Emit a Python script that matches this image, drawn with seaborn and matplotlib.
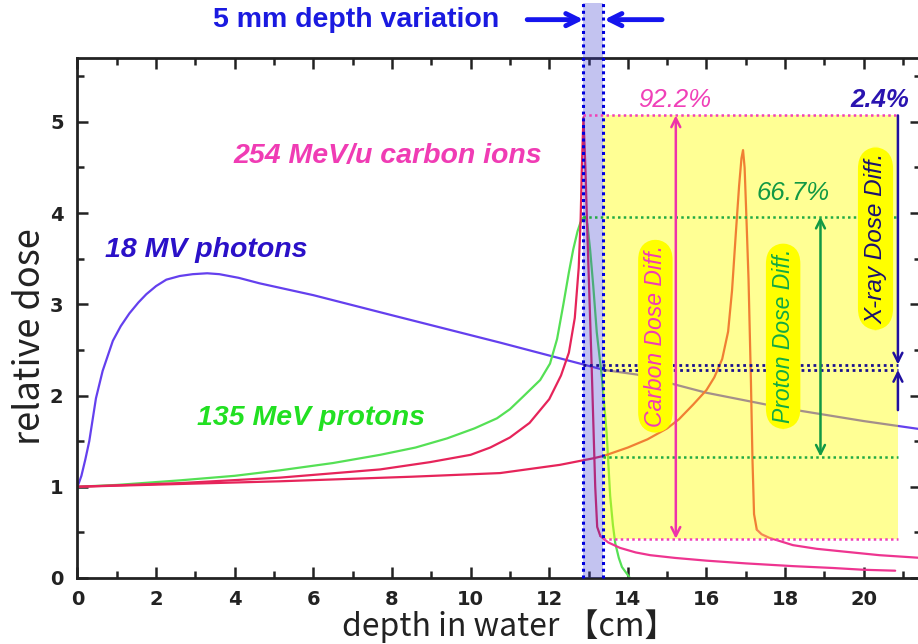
import numpy as np
import pandas as pd
import matplotlib
matplotlib.use("Agg")
import matplotlib.pyplot as plt
from matplotlib.patches import Rectangle
import seaborn as sns

# ---------------- data ----------------
photon_x = [0, 0.1, 0.2, 0.3, 0.47, 0.64, 0.9, 1.1, 1.32, 1.55, 1.75, 2.0, 2.26, 2.6,
            2.93, 3.3, 3.61, 4.1, 4.63, 6, 8, 10.75, 12.87, 13.4, 14.23, 16, 18, 20, 21.46]
photon_y = [1.0, 1.12, 1.3, 1.5, 1.97, 2.27, 2.6, 2.76, 2.9, 3.02, 3.11, 3.2, 3.27, 3.31,
            3.33, 3.34, 3.33, 3.29, 3.23, 3.1, 2.88, 2.58, 2.34, 2.28, 2.23, 2.03, 1.86, 1.72, 1.63]

proton_x = [0, 1, 2.6, 4, 5.15, 6.5, 7.7, 8.6, 9.4, 10.1, 10.67, 11.0, 11.34, 11.77,
            12.02, 12.2, 12.36, 12.5, 12.61, 12.72, 12.79, 12.86, 12.91, 12.97, 13.04,
            13.12, 13.21, 13.34, 13.46, 13.55, 13.62, 13.68, 13.77, 13.85, 13.97, 14.05]
proton_y = [1.0, 1.02, 1.07, 1.12, 1.18, 1.26, 1.35, 1.43, 1.53, 1.64, 1.75, 1.85, 1.99, 2.17,
            2.35, 2.62, 3.0, 3.35, 3.6, 3.8, 3.89, 3.95, 3.96, 3.88, 3.6,
            3.2, 2.69, 2.2, 1.59, 0.9, 0.58, 0.38, 0.22, 0.12, 0.05, 0.0]

carbon1_x = [0, 2.6, 5.15, 7.7, 8.97, 10.0, 10.5, 11.0, 11.5, 12.0, 12.3, 12.5, 12.65,
             12.75, 12.8, 12.83, 12.87, 12.92, 12.97, 13.08, 13.17, 13.22, 13.3, 13.5,
             13.8, 14.2, 14.57, 15.2, 16, 17, 18.2, 19.2, 20, 20.8]
carbon1_y = [1.0, 1.04, 1.1, 1.19, 1.27, 1.35, 1.43, 1.54, 1.7, 1.96, 2.22, 2.47, 2.85,
             3.4, 3.95, 4.5, 5.05, 4.5, 3.78, 2.31, 1.0, 0.56, 0.46, 0.39,
             0.33, 0.28, 0.25, 0.22, 0.19, 0.16, 0.13, 0.11, 0.09, 0.08]

carbon2_x = [0, 5.15, 8.5, 10.75, 12.27, 13.1, 13.4, 14.0, 14.5, 15.0, 15.3, 15.66, 16.0,
             16.2, 16.4, 16.55, 16.65, 16.75, 16.83, 16.89, 16.93, 16.97, 17.02, 17.07,
             17.13, 17.17, 17.21, 17.28, 17.4, 17.6, 17.9, 18.2, 18.8, 19.48, 20.4, 21.46]
carbon2_y = [1.0, 1.06, 1.11, 1.15, 1.24, 1.31, 1.34, 1.43, 1.52, 1.64, 1.74, 1.9, 2.06,
             2.2, 2.4, 2.7, 3.15, 3.8, 4.3, 4.6, 4.69, 4.5, 3.9, 3.27,
             2.17, 1.3, 0.7, 0.53, 0.48, 0.44, 0.4, 0.36, 0.32, 0.29, 0.25, 0.22]

x_ticks = [0, 2, 4, 6, 8, 10, 12, 14, 16, 18, 20]
y_ticks = [0, 1, 2, 3, 4, 5]

band = (12.87, 13.37)            # 5 mm depth variation
carbon_levels = (5.07, 0.43)     # carbon dose at the two depths
proton_levels = (3.96, 1.33)
photon_levels = (2.34, 2.28)
pct_labels = ["92.2%", "66.7%", "2.4%"]

# ---------------- styling ----------------
sns.set_style("ticks")
plt.rcParams["font.family"] = ["DejaVu Sans"]

fig = plt.figure(figsize=(9.18, 6.44), dpi=100)
ax = fig.add_axes([0.0844, 0.1025, 0.919, 0.8075])

C_PHOT = "#6440ee"
C_PROT = "#55e055"
C_CARB = "#e6245a"
C_TAIL = "#ee3590"

def seg(xs, ys, lo, hi):
    return pd.DataFrame({"x": xs[lo:hi], "y": ys[lo:hi]})

sns.lineplot(data=pd.DataFrame({"x": photon_x, "y": photon_y}), x="x", y="y",
             ax=ax, color=C_PHOT, lw=1.6, sort=False, estimator=None, zorder=2)
sns.lineplot(data=pd.DataFrame({"x": proton_x, "y": proton_y}), x="x", y="y",
             ax=ax, color=C_PROT, lw=1.6, sort=False, estimator=None, zorder=2)
k1 = carbon1_x.index(13.3)
sns.lineplot(data=seg(carbon1_x, carbon1_y, 0, k1 + 1), x="x", y="y", ax=ax,
             color=C_CARB, lw=1.6, sort=False, estimator=None, zorder=2)
sns.lineplot(data=seg(carbon1_x, carbon1_y, k1, None), x="x", y="y", ax=ax,
             color=C_TAIL, lw=1.6, sort=False, estimator=None, zorder=2)
k2 = carbon2_x.index(17.28)
sns.lineplot(data=seg(carbon2_x, carbon2_y, 0, k2 + 1), x="x", y="y", ax=ax,
             color=C_CARB, lw=1.6, sort=False, estimator=None, zorder=2)
sns.lineplot(data=seg(carbon2_x, carbon2_y, k2, None), x="x", y="y", ax=ax,
             color=C_TAIL, lw=1.6, sort=False, estimator=None, zorder=2)

ax.set_xlim(0, 21.46)
ax.set_ylim(0, 5.7)

# yellow overlay (semi-transparent, over the curves)
x_right = 20.87
ax.add_patch(Rectangle((band[1], carbon_levels[1]), x_right - band[1],
                       carbon_levels[0] - carbon_levels[1],
                       facecolor="#ffff00", alpha=0.42, edgecolor="none", zorder=3))
# blue depth band, extending above the axes
top_ext = 6.3
ax.add_patch(Rectangle((band[0], 0), band[1] - band[0], top_ext,
                       facecolor="#3a3ad0", alpha=0.3, edgecolor="none",
                       zorder=3, clip_on=False))
for bx in band:
    ax.plot([bx, bx], [0, top_ext], color="#0000dd", ls=(0, (1, 1.2)), lw=2.2,
            zorder=4, clip_on=False)

# dotted reference lines
dot = (0, (1, 1.3))
ax.plot([band[0], x_right], [carbon_levels[0]] * 2, color="#f040b8", ls=dot, lw=1.8, zorder=4)
ax.plot([band[1], x_right], [carbon_levels[1]] * 2, color="#f040b8", ls=dot, lw=1.8, zorder=4)
ax.plot([band[0], x_right], [proton_levels[0]] * 2, color="#22aa44", ls=dot, lw=1.8, zorder=4)
ax.plot([band[1], x_right], [proton_levels[1]] * 2, color="#22aa44", ls=dot, lw=1.8, zorder=4)
ax.plot([band[0], x_right], [photon_levels[0]] * 2, color="#1a1090", ls=dot, lw=2.0, zorder=4)
ax.plot([band[1], x_right], [photon_levels[1]] * 2, color="#1a1090", ls=dot, lw=2.0, zorder=4)

# difference arrows
def arrow(x0, y0, x1, y1, color, style="<->", lw=1.8, ms=16):
    ax.annotate("", xy=(x1, y1), xytext=(x0, y0),
                arrowprops=dict(arrowstyle=style, color=color, lw=lw,
                                mutation_scale=ms, shrinkA=0, shrinkB=0),
                zorder=5, annotation_clip=False)

arrow(15.22, carbon_levels[1], 15.22, carbon_levels[0], "#ee33aa")
arrow(18.9, proton_levels[1], 18.9, proton_levels[0], "#119944")
arrow(x_right, carbon_levels[0], x_right, photon_levels[0], "#2010a0", style="->")
arrow(x_right, 1.84, x_right, photon_levels[1], "#2010a0", style="->")

# top arrows
arrow(11.44, 6.12, band[0], 6.12, "#1515ee", style="->", lw=3.5, ms=22)
arrow(14.87, 6.12, band[1] + 0.03, 6.12, "#1515ee", style="->", lw=3.5, ms=22)
ax.text(3.45, 6.12, "5 mm depth variation", color="#1a1ae0", fontsize=20.5,
        fontweight="bold", family=["Liberation Sans", "DejaVu Sans"],
        ha="left", va="center", clip_on=False)

# curve labels
lab_font = dict(family=["Liberation Sans", "DejaVu Sans"], style="italic",
                fontweight="bold", fontsize=20.5)
ax.text(3.96, 4.63, "254 MeV/u carbon ions", color="#f03cb4", ha="left", va="center", **lab_font)
ax.text(0.7, 3.6, "18 MV photons", color="#2a10c8", ha="left", va="center", **lab_font)
ax.text(3.04, 1.75, "135 MeV protons", color="#22e022", ha="left", va="center", **lab_font)

# percent labels
pct_font = dict(family=["Liberation Sans", "DejaVu Sans"], style="italic", fontsize=18.5)
ax.text(15.2, 5.24, pct_labels[0], color="#f040b8", ha="center", va="center", **pct_font)
ax.text(18.2, 4.22, pct_labels[1], color="#119944", ha="center", va="center", **pct_font)
ax.text(20.4, 5.24, pct_labels[2], color="#2a14b0", ha="center", va="center",
        fontweight="bold", **pct_font)

# rotated labels in yellow rounded boxes
box = dict(boxstyle="round,pad=0.25,rounding_size=0.9", fc="#ffff00", ec="none")
rot_font = dict(family=["Liberation Sans", "DejaVu Sans"], style="italic",
                rotation=90, ha="center", va="center", bbox=box, zorder=6)
ax.text(14.7, 2.65, "Carbon Dose Diff.", color="#f03cb4", fontsize=16.5, **rot_font)
ax.text(17.95, 2.65, "Proton Dose Diff.", color="#11aa44", fontsize=16.5, **rot_font)
ax.text(20.3, 3.72, "X-ray Dose Diff.", color="#1a1070", fontsize=17.5, **rot_font)

# axes styling
ax.set_xticks(x_ticks)
ax.set_yticks(y_ticks)
ax.set_xticks(np.arange(1, 22, 2), minor=True)
ax.set_yticks(np.arange(0.5, 5.7, 1.0), minor=True)
ax.tick_params(which="both", direction="in", top=True, right=True, width=1.8, color="#222222")
ax.tick_params(which="major", length=8)
ax.tick_params(which="minor", length=5)
ax.tick_params(axis="x", which="major", pad=9)
ax.tick_params(axis="y", which="major", pad=10)
for lbl in ax.get_xticklabels() + ax.get_yticklabels():
    lbl.set_fontweight("bold")
    lbl.set_fontsize(14)
    lbl.set_color("#222222")
for sp in ax.spines.values():
    sp.set_linewidth(2)
    sp.set_color("#222222")

ax.set_xlabel("depth in water 【cm】", fontsize=23,
              family=["Noto Sans CJK JP", "DejaVu Sans"], color="#222222")
ax.set_ylabel("relative dose", fontsize=26,
              family=["Noto Sans CJK JP", "DejaVu Sans"], color="#222222")
ax.xaxis.label.set_va("center")
ax.xaxis.set_label_coords(0.512, -0.092)
ax.yaxis.set_label_coords(-0.035, 0.465)

fig.savefig("out.png", dpi=100)
